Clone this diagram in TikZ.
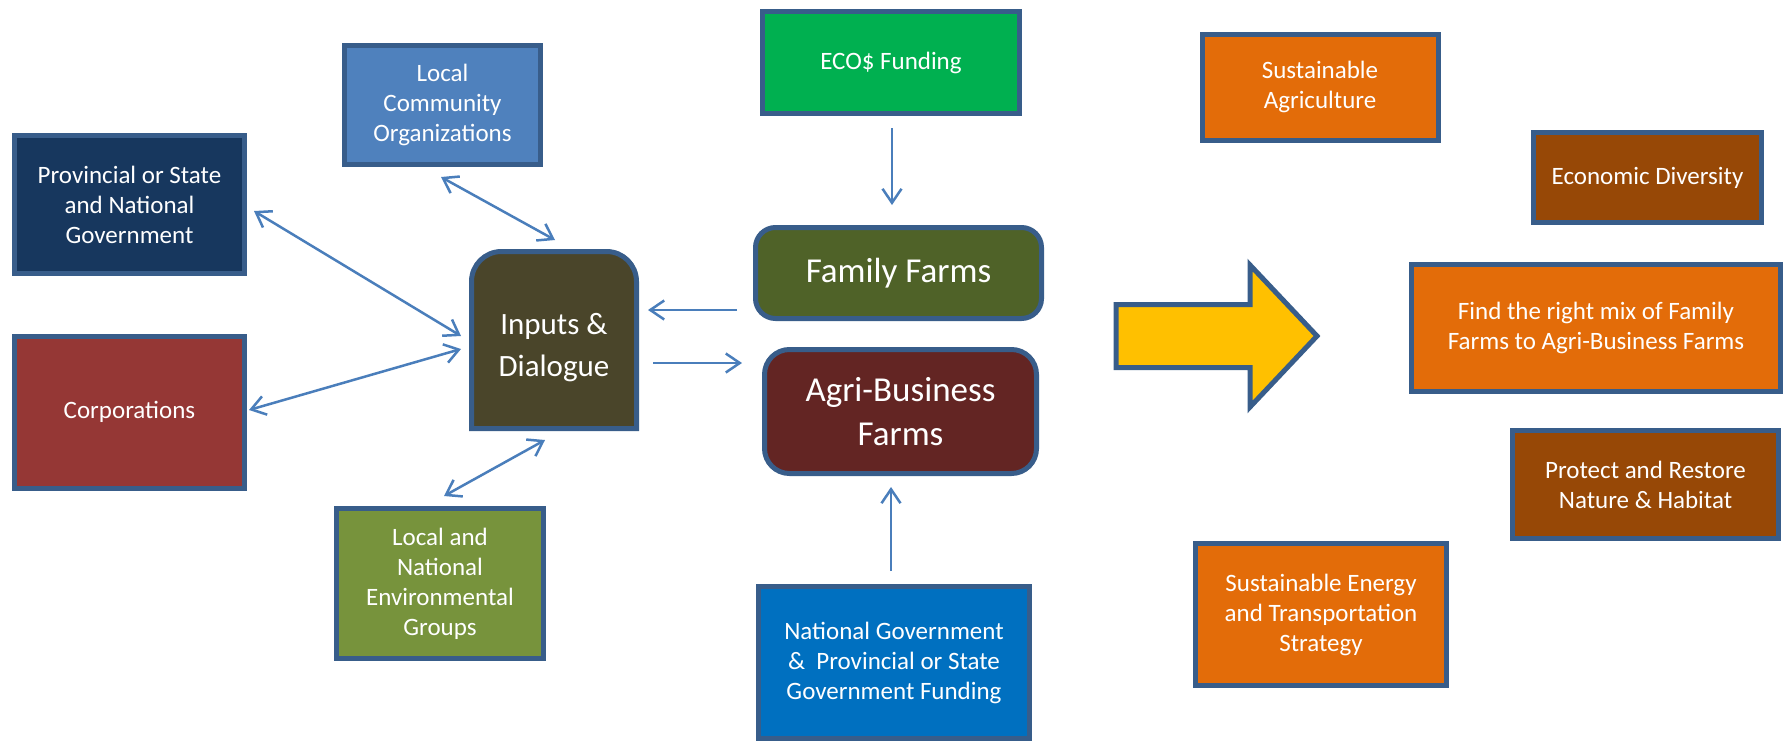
\documentclass[tikz,border=0pt]{standalone}
\usepackage{fontspec}
\setmainfont{Carlito}
\usetikzlibrary{arrows.meta,calc,backgrounds}
\definecolor{bord}{HTML}{385D8A}
\definecolor{linec}{HTML}{4A7EBB}
\definecolor{cnavy}{HTML}{17375E}
\definecolor{clblue}{HTML}{4F81BD}
\definecolor{cred}{HTML}{953735}
\definecolor{cgreen}{HTML}{77933C}
\definecolor{cinput}{HTML}{4A452A}
\definecolor{ceco}{HTML}{00B050}
\definecolor{cfam}{HTML}{4F6228}
\definecolor{cagri}{HTML}{632523}
\definecolor{cnat}{HTML}{0070C0}
\definecolor{corange}{HTML}{E36C09}
\definecolor{cbrown}{HTML}{974806}
\definecolor{cyellow}{HTML}{FFC000}
\tikzset{
  box/.style={draw=bord, line width=5pt, text=white, align=center, inner sep=0pt,
    font=\fontsize{25}{30}\selectfont},
  bigfont/.style={font=\fontsize{35}{44}\selectfont},
  barb/.tip={Straight Barb[length=14pt,width=19pt]},
  conn/.style={draw=linec, line width=2.5pt, -barb},
  biconn/.style={draw=linec, line width=2.5pt, barb-barb},
}
\begin{document}
\begin{tikzpicture}[x=1pt,y=1pt]
\useasboundingbox (0,0) rectangle (1786,-742);

% left column
\node[box, fill=cnavy, minimum width=230pt, minimum height=138pt] (prov) at (129.5,-204.5)
  {Provincial or State\\and National\\Government};
\node[box, fill=clblue, minimum width=196pt, minimum height=119pt] (lco) at (442.5,-105)
  {Local\\Community\\Organizations};
\node[box, fill=cred, minimum width=230pt, minimum height=152pt] (corp) at (129.5,-412)
  {Corporations};
\node[box, fill=cgreen, minimum width=207pt, minimum height=150pt] (env) at (440,-583.5)
  {Local and\\National\\Environmental\\Groups};

% inputs & dialogue (rounded top corners only)
\node[text=white, inner sep=0pt, outer sep=0pt, minimum width=165pt, minimum height=177pt,
  font=\fontsize{31}{42}\selectfont] (in) at (554,-340)
  {\raisebox{-14pt}[0pt][0pt]{\parbox{160pt}{\centering Inputs \&\\Dialogue}}};
\begin{scope}[on background layer]
\path[draw=bord, line width=5pt, fill=cinput]
  (in.south west) -- ([yshift=-30pt]in.north west) arc[start angle=180, end angle=90, radius=30pt]
  -- ([xshift=-30pt]in.north east) arc[start angle=90, end angle=0, radius=30pt]
  -- (in.south east) -- cycle;
\end{scope}

% centre column
\node[box, fill=ceco, minimum width=257pt, minimum height=102pt] (eco) at (891,-62.5)
  {ECO\$ Funding};
\node[box, bigfont, fill=cfam, rounded corners=20pt, minimum width=286pt, minimum height=91pt] (family) at (898.5,-273)
  {Family Farms};
\node[box, bigfont, fill=cagri, rounded corners=25pt, minimum width=272pt, minimum height=124pt] (agri) at (900.5,-411.5)
  {Agri-Business\\Farms};
\node[box, fill=cnat, minimum width=271pt, minimum height=152pt] (nat) at (894,-662.5)
  {National Government\\\& \ Provincial or State\\Government Funding};

% right column
\node[box, fill=corange, minimum width=236pt, minimum height=106pt] (susag) at (1320,-87)
  {Sustainable\\Agriculture};
\node[box, fill=cbrown, minimum width=228pt, minimum height=90pt] (econ) at (1647.5,-177.5)
  {Economic Diversity};
\node[box, fill=corange, minimum width=369pt, minimum height=127pt] (mix) at (1596,-328)
  {Find the right mix of Family\\Farms to Agri-Business Farms};
\node[box, fill=cbrown, minimum width=266pt, minimum height=108pt] (prot) at (1645.5,-484.5)
  {Protect and Restore\\Nature \& Habitat};
\node[box, fill=corange, minimum width=251pt, minimum height=142pt] (energy) at (1321,-614.5)
  {Sustainable Energy\\and Transportation\\Strategy};

% big yellow arrow
\path[draw=bord, line width=5pt, fill=cyellow, line join=miter]
  (1116,-304.5) -- (1250,-304.5) -- (1250,-265) -- (1317,-336) -- (1250,-407) -- (1250,-367.5)
  -- (1116,-367.5) -- cycle;

% connectors
\draw[biconn] ($(prov.east)+(7,-6.5)$) -- ($(in.west)+(-10.5,4)$);
\draw[biconn] ($(lco.south)+(-1.5,-10)$) -- ($(in.north)+(1,11.5)$);
\draw[biconn] ($(corp.east)+(2,2)$) -- ($(in.west)+(-10.5,-9)$);
\draw[biconn] ($(env.north)+(4,10)$) -- ($(in.south)+(-9,-11.5)$);
\draw[conn] ($(family.west)+(-16,-37)$) -- ($(in.east)+(11.5,30)$);
\draw[conn] ($(in.east)+(16.5,-23)$) -- ($(agri.west)+(-20,48.5)$);
\draw[conn] ($(eco.south)+(1,-12)$) -- ($(family.north)+(-6.5,20)$);
\draw[conn] ($(nat.north)+(-3,13)$) -- ($(agri.south)+(-9.5,-11)$);
\end{tikzpicture}
\end{document}
